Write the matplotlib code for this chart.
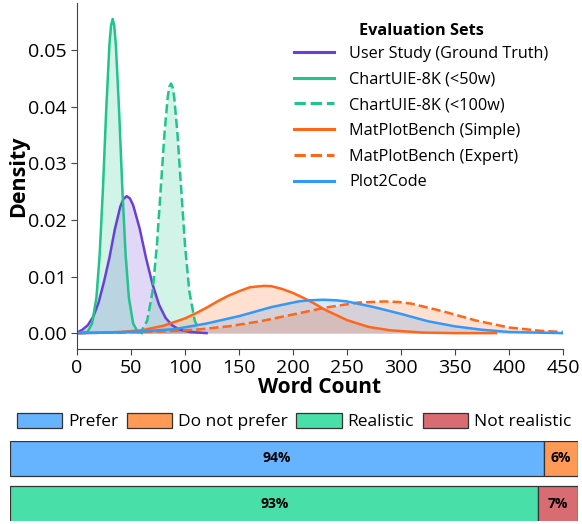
import matplotlib
matplotlib.use('Agg')
import matplotlib.pyplot as plt
from matplotlib.patches import Patch

plt.rcParams['font.family'] = ['Open Sans', 'DejaVu Sans']

# Density curves (word count -> density)
user_x = [0, 5, 10, 15, 20, 25, 30, 35, 40, 43, 46, 49, 52, 58, 64, 70, 76, 82, 88, 95, 105, 120]
user_y = [0.0001, 0.0006, 0.0014, 0.0029, 0.0054, 0.0091, 0.0133, 0.0183, 0.0223, 0.0237, 0.0242,
          0.0238, 0.0226, 0.0185, 0.0132, 0.0086, 0.0050, 0.0027, 0.0014, 0.0006, 0.0002, 0.0]

c50_x = [0, 5, 10, 14, 18, 21, 24, 27, 30, 31.5, 33, 34.5, 36, 39, 42, 45, 48, 52, 56, 60]
c50_y = [0.0, 0.00003, 0.0003, 0.0017, 0.0063, 0.0139, 0.0254, 0.0392, 0.0509, 0.0543, 0.0555,
         0.0543, 0.0509, 0.0392, 0.0254, 0.0139, 0.0063, 0.0017, 0.0003, 0.0]

c100_x = [55, 60, 65, 70, 74, 78, 81, 84, 85.5, 87, 88.5, 90, 93, 96, 100, 104, 109, 113]
c100_y = [0.0001, 0.0005, 0.0022, 0.0074, 0.0156, 0.0268, 0.0353, 0.0417, 0.0435, 0.0441, 0.0435,
          0.0417, 0.0353, 0.0268, 0.0156, 0.0074, 0.0022, 0.0007]

simple_x = [0, 40, 60, 80, 100, 110, 120, 130, 140, 150, 160, 165, 173, 180, 190, 200, 210,
            220, 230, 240, 250, 270, 290, 320, 350, 388]
simple_y = [0.0, 0.0002, 0.0005, 0.0013, 0.0026, 0.0035, 0.0045, 0.0056, 0.0066, 0.0074, 0.0081,
            0.0082, 0.00835, 0.0083, 0.0078, 0.0071, 0.0062, 0.0052, 0.0041, 0.0032, 0.0023,
            0.0011, 0.0005, 0.0001, 0.0, 0.0]

expert_x = [0, 40, 80, 110, 140, 170, 200, 230, 260, 272, 285, 298, 310, 340, 370, 400, 430, 450]
expert_y = [0.0, 0.0001, 0.0003, 0.0006, 0.0012, 0.0021, 0.0033, 0.0045, 0.0054, 0.0055, 0.0056,
            0.0055, 0.0052, 0.0038, 0.0022, 0.0010, 0.0004, 0.0002]

p2c_x = [0, 30, 60, 90, 120, 150, 165, 180, 190, 205, 215, 228, 240, 250, 275, 300, 325, 350,
         375, 400, 425, 450]
p2c_y = [0.0, 0.0001, 0.0003, 0.0007, 0.0017, 0.0030, 0.0038, 0.0046, 0.0050, 0.0056, 0.0058,
         0.0059, 0.0058, 0.0056, 0.0046, 0.0034, 0.0021, 0.0012, 0.0006, 0.0002, 0.0001, 0.0]

x_ticks = [0, 50, 100, 150, 200, 250, 300, 350, 400, 450]
y_ticks = [0.00, 0.01, 0.02, 0.03, 0.04, 0.05]

# user study bars
bar_labels = ['Prefer', 'Do not prefer', 'Realistic', 'Not realistic']
prefer = [94, 6]
realistic = [93, 7]

PURPLE = '#6a3fd8'
GREEN = '#20c48c'
ORANGE = '#ff6619'
BLUE = '#3398fa'

fig = plt.figure(figsize=(5.82, 5.24), dpi=100)
ax = fig.add_axes([0.1323, 0.334, 0.835, 0.660])

curves = [
    (user_x, user_y, PURPLE, '-', 'User Study (Ground Truth)'),
    (c50_x, c50_y, GREEN, '-', 'ChartUIE-8K (<50w)'),
    (c100_x, c100_y, GREEN, '--', 'ChartUIE-8K (<100w)'),
    (simple_x, simple_y, ORANGE, '-', 'MatPlotBench (Simple)'),
    (expert_x, expert_y, ORANGE, '--', 'MatPlotBench (Expert)'),
    (p2c_x, p2c_y, BLUE, '-', 'Plot2Code'),
]
for xs, ys, col, ls, lab in curves:
    ax.fill_between(xs, ys, 0, color=col, alpha=0.2, linewidth=0)
    ax.plot(xs, ys, color=col, linestyle=ls, linewidth=1.8, label=lab)

ax.set_xlim(0, 450)
ax.set_ylim(-0.0028, 0.0583)
ax.set_xticks(x_ticks)
ax.set_yticks(y_ticks)
ax.set_yticklabels([f'{v:.2f}' for v in y_ticks])
ax.tick_params(labelsize=14, color='#444444', length=4)
for side in ['top', 'right']:
    ax.spines[side].set_visible(False)
for side in ['left', 'bottom']:
    ax.spines[side].set_color('#444444')
ax.set_xlabel('Word Count', fontsize=15, fontweight='bold', labelpad=0)
ax.set_ylabel('Density', fontsize=15.5, fontweight='bold', labelpad=-1)

leg = ax.legend(title='Evaluation Sets', loc='upper right', bbox_to_anchor=(1.0, 0.986),
                frameon=False, fontsize=11.7, handlelength=2.5, labelspacing=0.6,
                handletextpad=0.9)
leg.get_title().set_fontweight('bold')
leg.get_title().set_fontsize(11.7)
leg._legend_box.sep = 5
for line in leg.get_lines():
    line.set_linewidth(2.2)

# bottom: stacked horizontal bars
bx = fig.add_axes([0.0172, 0.0057, 0.976, 0.153])
bar_colors = [['#66b3ff', '#ff9955'], ['#48e0a8', '#d96b73']]
rows = [prefer, realistic]
for i, vals in enumerate(rows):
    left = 0
    for j, v in enumerate(vals):
        bx.barh(i, v, left=left, height=0.77, color=bar_colors[i][j],
                edgecolor='#333333', linewidth=0.9)
        bx.text(left + v / 2, i, f'{v}%', ha='center', va='center',
                fontsize=10, fontweight='bold')
        left += v
bx.set_xlim(0, 100)
bx.set_ylim(1.374, -0.385)
bx.axis('off')

handles = [Patch(facecolor=c, edgecolor='#333333', linewidth=0.9)
           for c in bar_colors[0] + bar_colors[1]]
bx.legend(handles, bar_labels, loc='lower center', bbox_to_anchor=(0.5, 1.0),
          ncol=4, frameon=False, fontsize=12.5, handlelength=2.6, handleheight=1.0,
          columnspacing=0.5, handletextpad=0.35, borderaxespad=0.2)

fig.savefig('out.png', dpi=100)
